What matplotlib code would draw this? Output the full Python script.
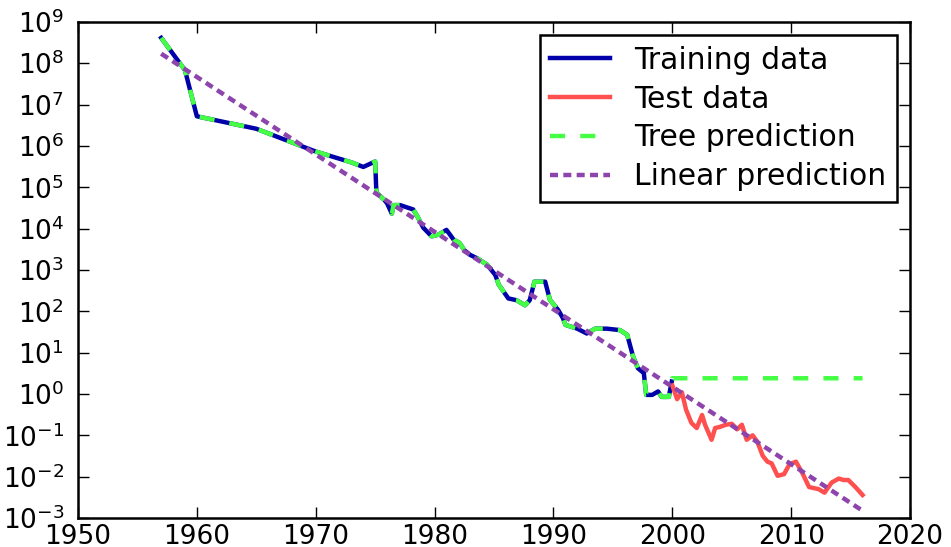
import matplotlib
matplotlib.use("Agg")
import matplotlib.pyplot as plt

# training data (before 2000)
train_date = [1957, 1959, 1960, 1965, 1970, 1973, 1974, 1975, 1975.1, 1975.75,
              1976.0, 1976.4, 1976.55, 1977.1, 1978.2, 1978.5, 1979.05, 1979.75,
              1980.3, 1981.0, 1981.6, 1982.1, 1982.5, 1983.0, 1983.6, 1984.4,
              1985.1, 1985.4, 1985.8, 1986.2, 1986.9, 1987.6, 1988.0, 1988.4,
              1989.3, 1989.7, 1990.4, 1990.8, 1991.0, 1992.0, 1992.8, 1993.5,
              1994.5, 1995.6, 1996.2, 1996.7, 1997.1, 1997.6, 1997.8, 1998.3,
              1998.8, 1999.1, 1999.7, 1999.95]
train_price = [4.1e8, 6.8e7, 5.2e6, 2.6e6, 7.3e5, 4.0e5, 3.1e5, 4.2e5, 7.5e4, 5.0e4,
               4.1e4, 2.3e4, 3.7e4, 3.7e4, 2.9e4, 2.1e4, 1.05e4, 6.5e3,
               7.1e3, 9.3e3, 5.4e3, 4.5e3, 3.0e3, 2.3e3, 1.9e3, 1.35e3,
               760, 440, 300, 205, 185, 140, 185, 520,
               520, 190, 107, 68, 47, 38, 29, 38,
               38, 35, 27, 8.0, 4.2, 3.2, 0.95, 0.95,
               1.15, 0.85, 0.85, 2.0]

# test data (2000 onwards)
test_date = [2000.0, 2000.4, 2000.8, 2001.15, 2001.6, 2002.05, 2002.5, 2002.75,
             2003.3, 2003.6, 2004.0, 2004.5, 2005.0, 2005.45, 2005.85, 2006.25,
             2006.75, 2007.15, 2007.6, 2008.0, 2008.35, 2008.85, 2009.4, 2009.85,
             2010.4, 2010.95, 2011.5, 2012.3, 2012.8, 2013.4, 2014.0, 2014.4,
             2014.8, 2015.4, 2016.0]
test_price = [1.6, 0.75, 1.1, 0.42, 0.2, 0.15, 0.31, 0.18,
              0.078, 0.15, 0.16, 0.18, 0.19, 0.14, 0.18, 0.078,
              0.1, 0.07, 0.032, 0.023, 0.021, 0.0105, 0.0115, 0.02,
              0.023, 0.012, 0.0056, 0.005, 0.0041, 0.0072, 0.009, 0.0083,
              0.0083, 0.0056, 0.0036]

# tree prediction: follows training data, then flat
tree_level = 2.4
# linear prediction end points
lin_date = [1957, 2016]
lin_price = [1.7e8, 1.5e-3]

all_date = train_date + test_date
tree_price = train_price + [tree_level] * len(test_date)

fig = plt.figure(figsize=(9.51, 5.47), dpi=100)
ax = fig.add_axes([0.082, 0.053, 0.875, 0.907])

ax.semilogy(train_date, train_price, color="#0000aa", lw=3.2, label="Training data")
ax.semilogy(test_date, test_price, color="#ff5050", lw=3.2, label="Test data")
ax.semilogy(all_date, tree_price, color="#44ff44", lw=3.2, dashes=(3.4, 3.4),
            label="Tree prediction")
ax.semilogy(lin_date, lin_price, color="#8e44ad", lw=3.2, dashes=(1.8, 1.2),
            label="Linear prediction")

ax.set_xlim(1950, 2020)
ax.set_ylim(1e-3, 1e9)
ax.set_yticks([10.0 ** k for k in range(-3, 10)])

ax.tick_params(which="both", direction="in", top=True, right=True)
ax.tick_params(which="major", length=8, width=1, labelsize=19, pad=4)
ax.tick_params(which="minor", length=4, width=1)
ax.tick_params(axis="y", which="major", pad=10)
for s in ax.spines.values():
    s.set_linewidth(1.8)

leg = ax.legend(loc="upper right", fontsize=21.5, fancybox=False, framealpha=1,
                edgecolor="black", handlelength=2.0, handletextpad=0.8,
                labelspacing=0.33, borderpad=0.35, borderaxespad=0.45)
leg.get_frame().set_linewidth(1.8)

fig.savefig("out.png", dpi=100)
